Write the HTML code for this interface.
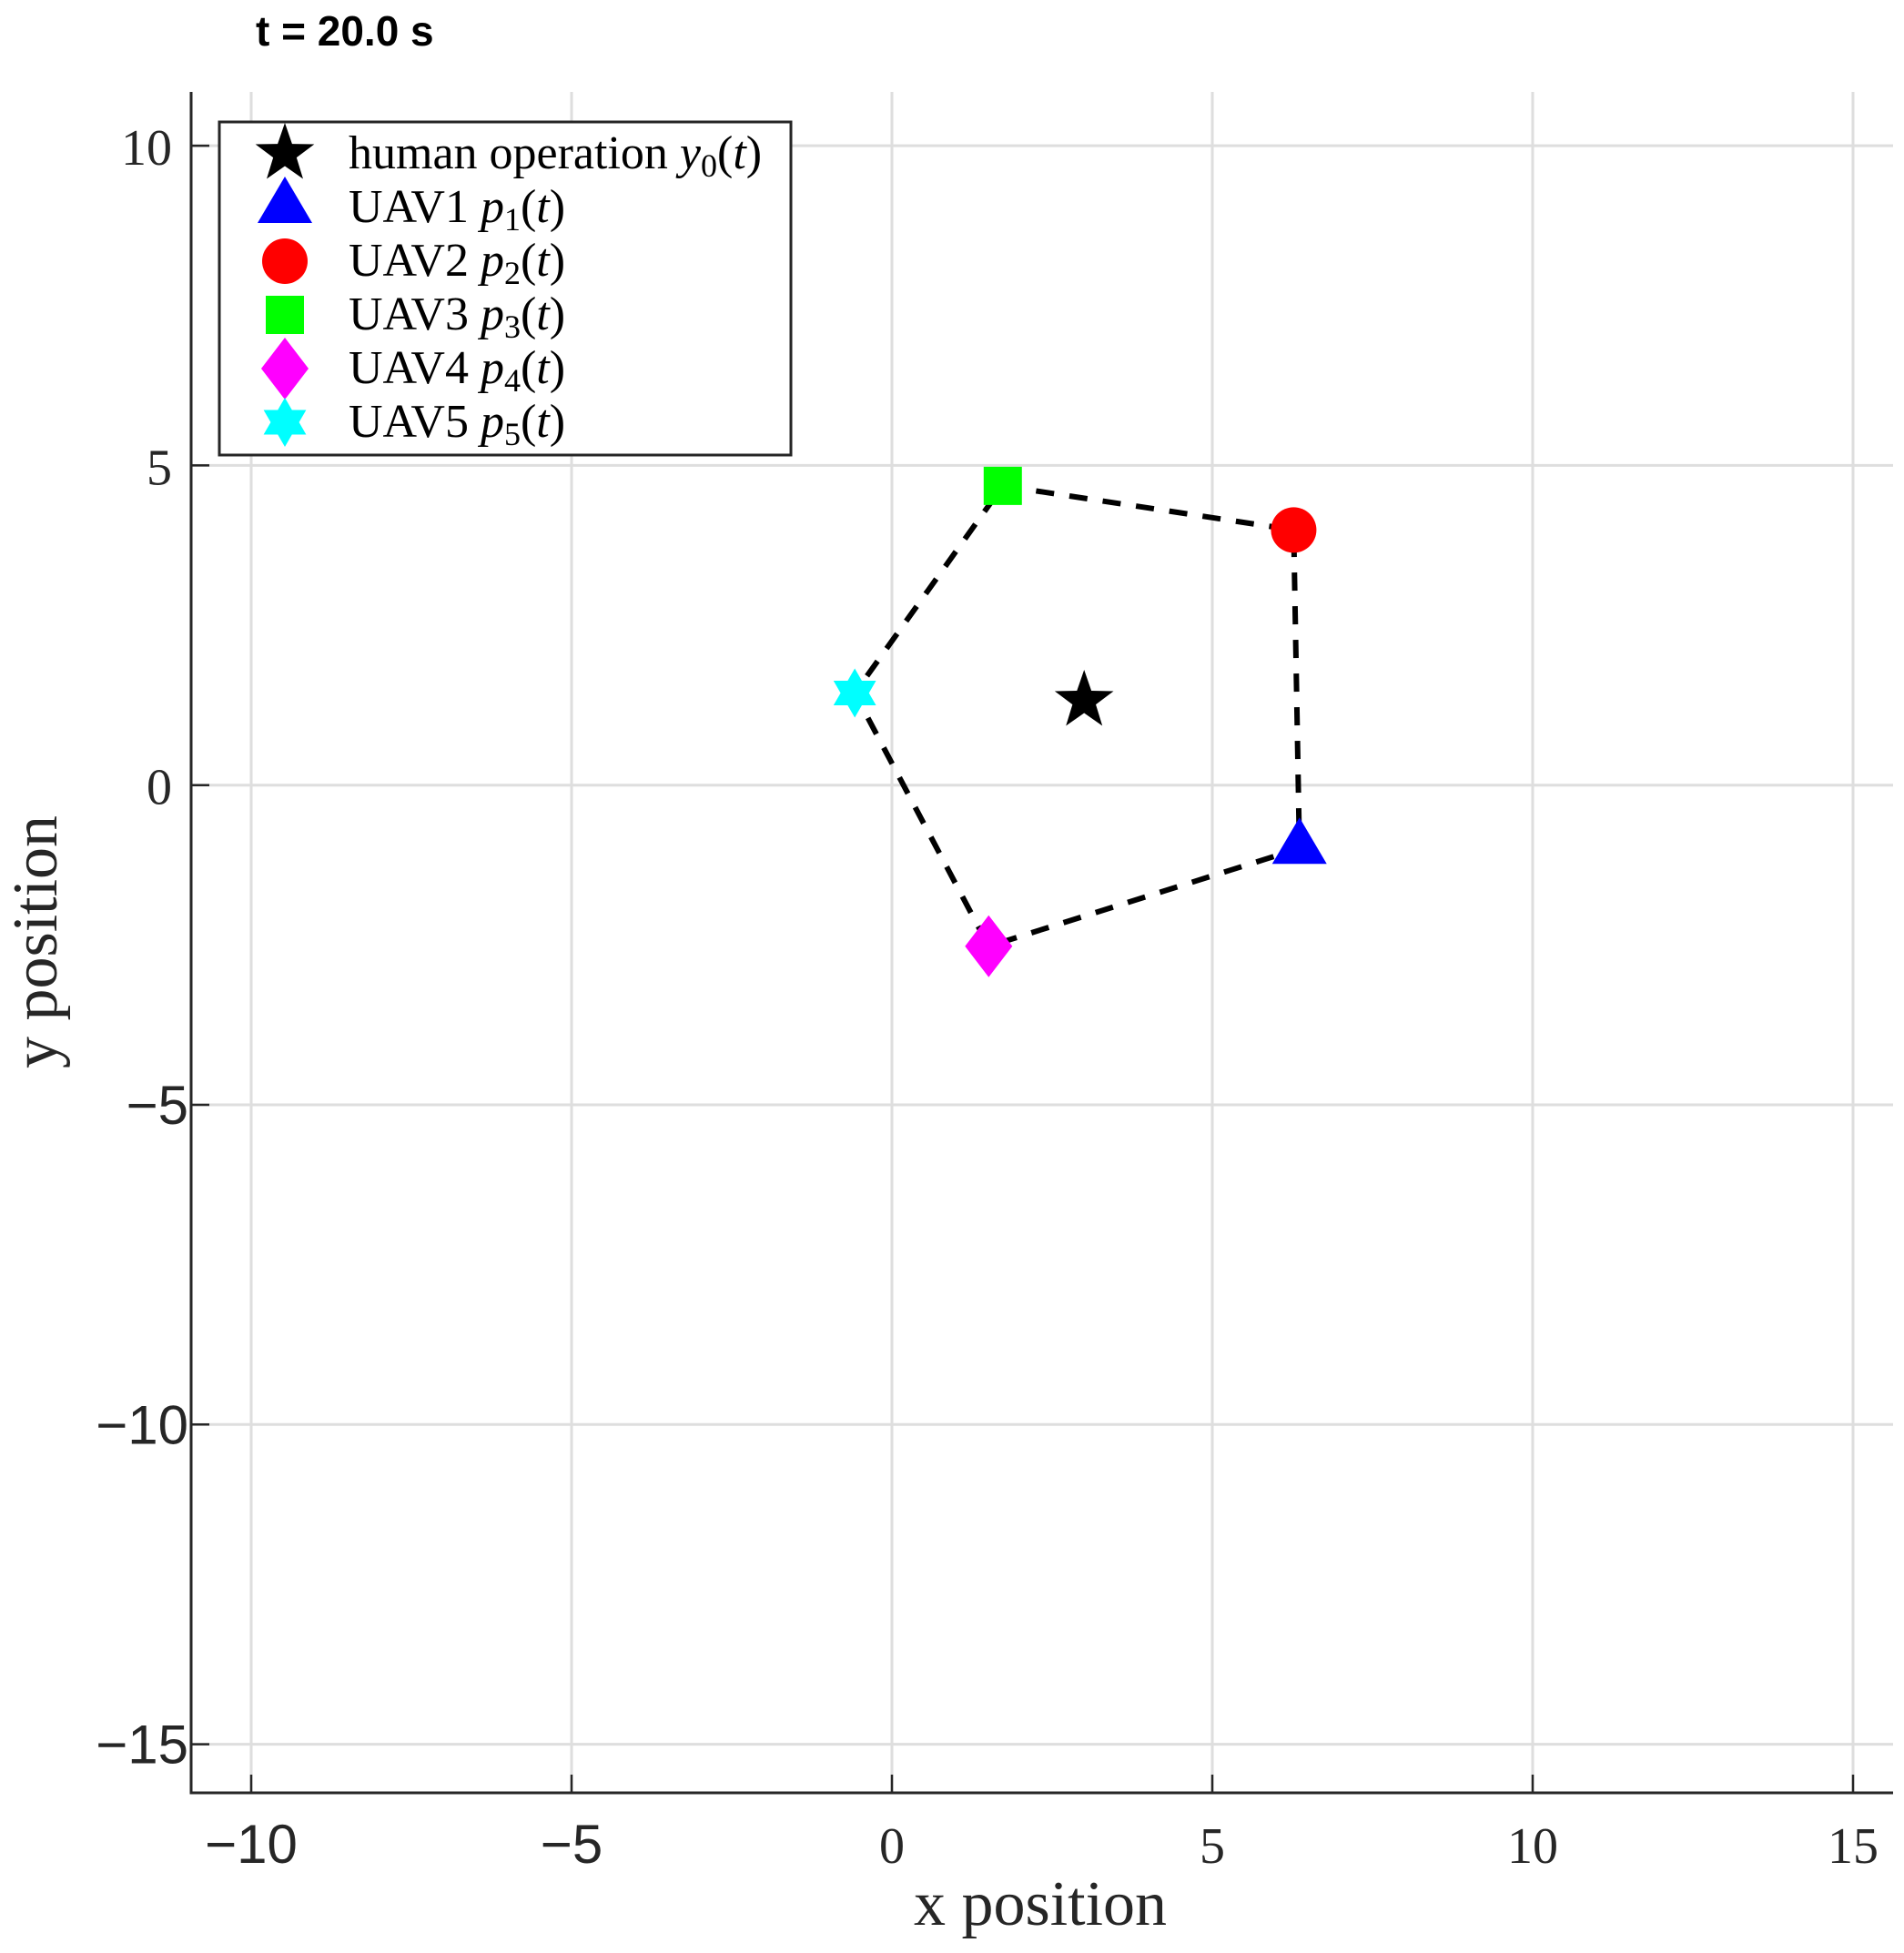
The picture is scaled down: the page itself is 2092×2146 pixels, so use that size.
<!DOCTYPE html>
<html><head><meta charset="utf-8"><style>
html,body{margin:0;padding:0;background:#fff;}
svg{display:block;}
.serif{font-family:"Liberation Serif",serif;}
.sans{font-family:"Liberation Sans",sans-serif;}
</style></head><body>
<svg id="chart" width="2092" height="2146" viewBox="0 0 2092 2146" xmlns="http://www.w3.org/2000/svg">
<text x="281" y="50" class="sans" font-size="46" font-weight="bold" fill="#000">t = 20.0 s</text>
<g id="grid"></g>
<g id="lines"></g>
<g id="marks"></g>
<g id="axes"></g>
<text x="1143" y="2115" class="serif" font-size="70" text-anchor="middle" fill="#262626">x position</text>
<text transform="translate(62,1035) rotate(-90)" class="serif" font-size="70" text-anchor="middle" fill="#262626">y position</text>
<g>
<rect x="241" y="134" width="628" height="366" fill="#fff" stroke="#262626" stroke-width="3"/>
<g id="legend-items"></g>
</g>
</svg>
<script>
const xTicks=[-10,-5,0,5,10,15];
const yTicks=[10,5,0,-5,-10,-15];
const names=["human operation","UAV1","UAV2","UAV3","UAV4","UAV5"];
const subs=["y","p","p","p","p","p"];
const xs=[3.0,6.36,6.27,1.73,1.51,-0.58];
const ys=[1.32,-0.99,3.99,4.68,-2.52,1.44];
const colors=["#000","#0000ff","#ff0000","#00ff00","#ff00ff","#00ffff"];
const shapes=["star","tri","circle","square","diamond","hex"];
const order=[3,2,1,4,5];

const L=210,R=2080,T=101,B=1970;
const X=v=>980+v*70.4, Y=v=>862.7-v*70.26;
const NS="http://www.w3.org/2000/svg";
function mk(tag,attrs,parent){const e=document.createElementNS(NS,tag);for(const k in attrs)e.setAttribute(k,attrs[k]);parent.appendChild(e);return e;}
const grid=document.getElementById('grid'),axes=document.getElementById('axes'),lines=document.getElementById('lines'),marks=document.getElementById('marks'),leg=document.getElementById('legend-items');

xTicks.forEach(v=>{
 const g=mk('line',{x1:X(v),x2:X(v),y1:T,y2:B,stroke:'#dedede','stroke-width':3},grid);
 
 
 const t=mk('line',{x1:X(v),x2:X(v),y1:B,y2:B-20,stroke:'#262626','stroke-width':2.5},axes);
 
 
 const neg=v<0;
 const lb=mk('text',{x:X(v),y:2047,'text-anchor':'middle','font-size':neg?60:56,fill:'#262626',class:neg?'sans':'serif'},axes);
 lb.textContent=neg?'\u2212'+Math.abs(v):String(v);
 
 
});
yTicks.forEach(v=>{
 const g=mk('line',{x1:L,x2:R,y1:Y(v),y2:Y(v),stroke:'#dedede','stroke-width':3},grid);
 
 
 const t=mk('line',{x1:L,x2:L+20,y1:Y(v),y2:Y(v),stroke:'#262626','stroke-width':2.5},axes);
 
 
 const neg=v<0;
 const lb=mk('text',{x:neg?207:189,y:Y(v)+21,'text-anchor':'end','font-size':neg?60:56,fill:'#262626',class:neg?'sans':'serif'},axes);
 lb.textContent=neg?'\u2212'+Math.abs(v):String(v);
 
 
});
const ax=mk('path',{d:`M${L},${T} V${B} H${R}`,fill:'none',stroke:'#262626','stroke-width':3},axes);



const pts=order.concat([order[0]]).map(i=>X(xs[i])+','+Y(ys[i])).join(' ');
const pl=mk('polyline',{points:pts,fill:'none',stroke:'#000','stroke-width':6,'stroke-dasharray':'20 17'},lines);



function shape(s,cx,cy,c,parent){
 let e;
 if(s==='circle') e=mk('circle',{cx,cy,r:25,fill:c},parent);
 else if(s==='square') e=mk('rect',{x:cx-21,y:cy-21,width:42,height:42,fill:c},parent);
 else if(s==='tri') e=mk('polygon',{points:`${cx},${cy-34} ${cx+30},${cy+17} ${cx-30},${cy+17}`,fill:c},parent);
 else if(s==='diamond') e=mk('polygon',{points:`${cx},${cy-34} ${cx+26},${cy} ${cx},${cy+34} ${cx-26},${cy}`,fill:c},parent);
 else if(s==='hex'){const r=27,p1=[],p2=[];for(let k=0;k<3;k++){const a=-Math.PI/2+k*2*Math.PI/3,b=Math.PI/2+k*2*Math.PI/3;p1.push((cx+r*Math.cos(a))+','+(cy+r*Math.sin(a)));p2.push((cx+r*Math.cos(b))+','+(cy+r*Math.sin(b)));}
  e=mk('g',{},parent);mk('polygon',{points:p1.join(' '),fill:c},e);mk('polygon',{points:p2.join(' '),fill:c},e);}
 else {const p=[];for(let k=0;k<10;k++){const r=k%2?13.5:34,a=-Math.PI/2+k*Math.PI/5;p.push((cx+r*Math.cos(a))+','+(cy+r*Math.sin(a)));}e=mk('polygon',{points:p.join(' '),fill:c},parent);}
 return e;
}
const markNames=['operator-marker','uav1-marker','uav2-marker','uav3-marker','uav4-marker','uav5-marker'];
xs.forEach((v,i)=>{
 const e=shape(shapes[i],X(v),Y(ys[i]),colors[i],marks);
 
 
});
names.forEach((n,i)=>{
 const cy=169+i*59;
 const m=shape(shapes[i],313,cy,colors[i],leg);
 
 
 const t=mk('text',{x:383,y:cy+16,'font-size':52,fill:'#000',class:'serif'},leg);
 
 
 const a=document.createElementNS(NS,'tspan');a.textContent=n+' ';t.appendChild(a);
 const b=document.createElementNS(NS,'tspan');b.setAttribute('font-style','italic');b.textContent=subs[i];t.appendChild(b);
 const c=document.createElementNS(NS,'tspan');c.setAttribute('font-size','36');c.setAttribute('dy','9');c.textContent=String(i);t.appendChild(c);
 const d=document.createElementNS(NS,'tspan');d.setAttribute('dy','-9');d.innerHTML='(<tspan font-style="italic">t</tspan>)';t.appendChild(d);
});
</script>
</body></html>
